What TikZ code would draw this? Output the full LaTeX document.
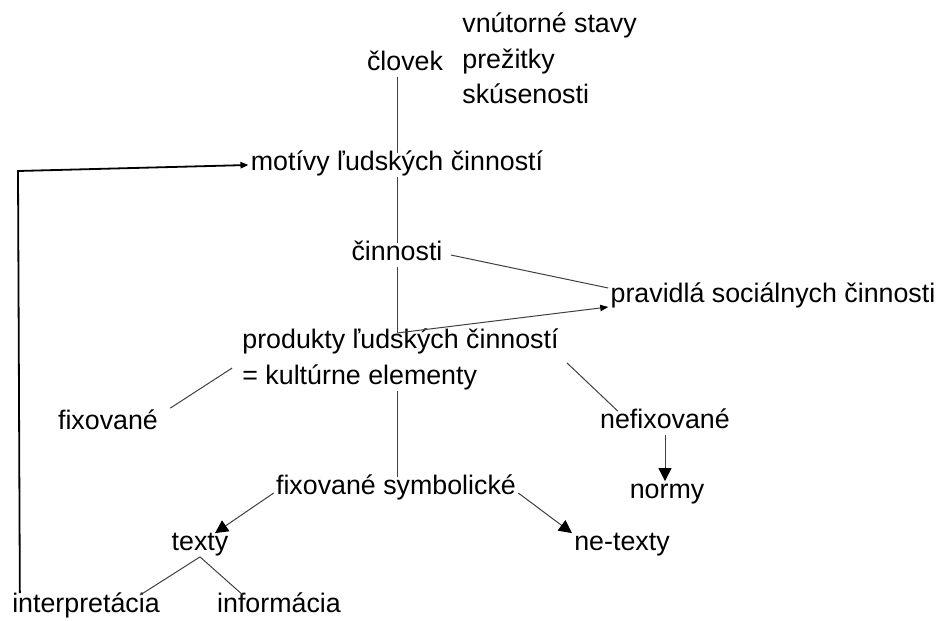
\documentclass[tikz,border=0pt]{standalone}
\usepackage{fontspec}
\setmainfont{Liberation Sans}
\usetikzlibrary{arrows.meta}
\begin{document}
\begin{tikzpicture}[x=0.5pt,y=-0.5pt,
  lbl/.style={inner sep=1pt,text height=0.75em,text depth=0.2em,
    font=\fontsize{13.4}{17.75}\selectfont},
  link/.style={draw=black!75,line width=0.5pt},
  bigarr/.style={link,-{Triangle[length=6.5pt,width=6.5pt,color=black]}},
  smallarr/.style={link,-{Triangle[length=4pt,width=3.2pt,color=black]}},
  back/.style={draw=black,line width=0.9pt,-{Triangle[length=4pt,width=3.2pt]}}]
\useasboundingbox (0,0) rectangle (937,621);

% top part
\node[lbl] (clovek) at (405,65) {človek};
\node[lbl,anchor=west] (stavy) at (460,27) {vnútorné stavy};
\node[lbl,anchor=west] (prezitky) at (460,63) {prežitky};
\node[lbl,anchor=west] (skusenosti) at (460,98) {skúsenosti};
\node[lbl] (motivy) at (397,165) {motívy ľudských činností};
\node[lbl] (cinnosti) at (397,255) {činnosti};
\node[lbl] (pravidla) at (773,297) {pravidlá sociálnych činnosti};

% products
\node[lbl,anchor=west] (produkty) at (240,343) {produkty ľudských činností};
\node[lbl,anchor=west] (kultelem) at (240,379) {= kultúrne elementy};
\node[lbl] (fixovane) at (108,424) {fixované};
\node[lbl] (nefixovane) at (665,423) {nefixované};
\node[lbl] (normy) at (667,493) {normy};
\node[lbl] (fixsym) at (396,489) {fixované symbolické};
\node[lbl] (texty) at (200,545) {texty};
\node[lbl] (netexty) at (622,545) {ne-texty};
\node[lbl] (interp) at (86,607) {interpretácia};
\node[lbl] (inform) at (279,607) {informácia};

\coordinate (split) at (cinnosti.south |- 0,333);
\coordinate (fbcorner) at (18,171);

% trunk
\draw[link] (motivy.north |- clovek.south) -- (motivy.north);
\draw[link] (motivy) -- (cinnosti);
\draw[link] (cinnosti) -- (split);
\draw[link] (kultelem.south -| split) -- (fixsym.north -| split);

% rules
\draw[link] ([xshift=3pt]cinnosti.east) -- ([yshift=4.5pt]pravidla.west);
\draw[smallarr] (split) -- ([yshift=-5pt]pravidla.west);

% branches
\draw[link] ([xshift=-4pt,yshift=-0.5pt]kultelem.north west) -- ([xshift=5pt,yshift=2pt]fixovane.north east);
\draw[link] ([xshift=3pt,yshift=-4pt]produkty.south east) -- ([xshift=10pt]nefixovane.north west);
\draw[bigarr] (nefixovane.south) -- (nefixovane.south |- normy.north);
\draw[bigarr] ([yshift=-2pt]fixsym.west) -- ([xshift=7.5pt]texty.north);
\draw[bigarr] ([yshift=-2pt]fixsym.east) -- (netexty.north west);
\draw[link] (texty.south) -- ([xshift=27pt]interp.north);
\draw[link] (texty.south) -- ([xshift=-18pt]inform.north);

% feedback
\draw[back] ([xshift=5pt,yshift=1pt]interp.north west) -- (fbcorner) -- (motivy.west);
\end{tikzpicture}
\end{document}
